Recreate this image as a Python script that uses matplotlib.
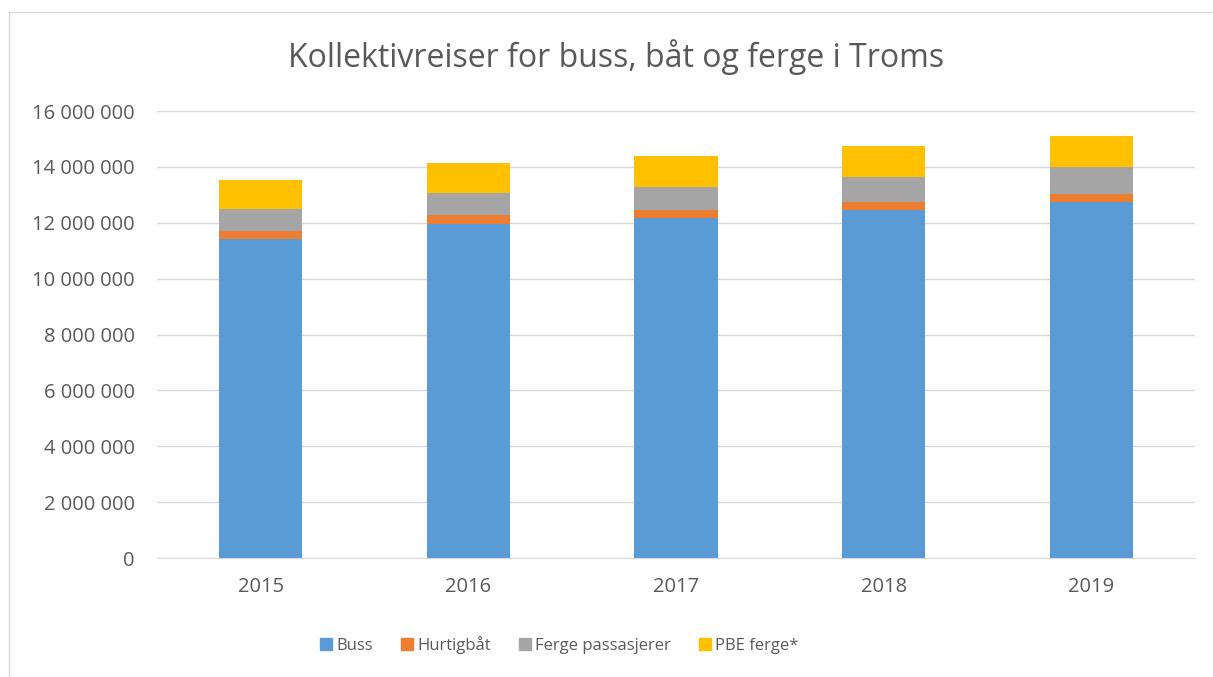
import matplotlib
matplotlib.use("Agg")
import matplotlib.pyplot as plt
from matplotlib.lines import Line2D
from matplotlib.ticker import FuncFormatter, MultipleLocator

years = ["2015", "2016", "2017", "2018", "2019"]
buss = [11430000, 11960000, 12180000, 12460000, 12760000]
hurtigbat = [290000, 300000, 290000, 300000, 270000]
ferge = [780000, 810000, 800000, 890000, 980000]
pbe = [1030000, 1060000, 1130000, 1110000, 1080000]
series_names = ["Buss", "Hurtigbåt", "Ferge passasjerer", "PBE ferge*"]
colors = ["#5B9BD5", "#ED7D31", "#A5A5A5", "#FFC000"]

plt.rcParams['font.family'] = ['Open Sans', 'DejaVu Sans']
fig = plt.figure(figsize=(12.13, 6.77), dpi=100)
W, H = 1213, 677
ax = fig.add_axes([157 / W, 1 - 558 / H, (1195 - 157) / W, (558 - 111) / H])

x = list(range(len(years)))
bottom = [0] * len(years)
for vals, name, c in zip([buss, hurtigbat, ferge, pbe], series_names, colors):
    ax.bar(x, vals, width=0.40, bottom=bottom, color=c, label=name, zorder=3)
    bottom = [b + v for b, v in zip(bottom, vals)]

ax.set_xlim(-0.5, len(years) - 0.5)
ax.set_ylim(0, 16000000)
ax.yaxis.set_major_locator(MultipleLocator(2000000))
ax.yaxis.set_major_formatter(FuncFormatter(lambda v, p: f"{int(v):,}".replace(",", " ")))
ax.set_xticks(x)
ax.set_xticklabels(years)
ax.grid(axis='y', color='#D9D9D9', linewidth=1, zorder=0)
for s in ['top', 'right', 'left']:
    ax.spines[s].set_visible(False)
ax.spines['bottom'].set_color('#D9D9D9')
ax.tick_params(axis='both', length=0, labelsize=14.5, colors='#595959')
ax.tick_params(axis='y', pad=16)
ax.tick_params(axis='x', pad=14)

fig.text(616 / W, 1 - 57 / H, "Kollektivreiser for buss, båt og ferge i Troms",
         ha='center', va='center', fontsize=23, color='#595959')

handles = [Line2D([], [], marker='s', linestyle='none', markersize=8.5,
                  markerfacecolor=c, markeredgecolor=c) for c in colors]
fig.legend(handles, series_names, loc='center', bbox_to_anchor=(558 / W, 1 - 645 / H),
           ncol=4, frameon=False, fontsize=12, labelcolor='#595959',
           handletextpad=0.1, columnspacing=1.55, handlelength=1.0)

# outer frame
fig.add_artist(Line2D([9 / W, 9 / W], [0, 1 - 12 / H], transform=fig.transFigure, color='#D9D9D9', lw=1))
fig.add_artist(Line2D([9 / W, 1], [1 - 12 / H, 1 - 12 / H], transform=fig.transFigure, color='#D9D9D9', lw=1))

fig.savefig("out.png", dpi=100)
